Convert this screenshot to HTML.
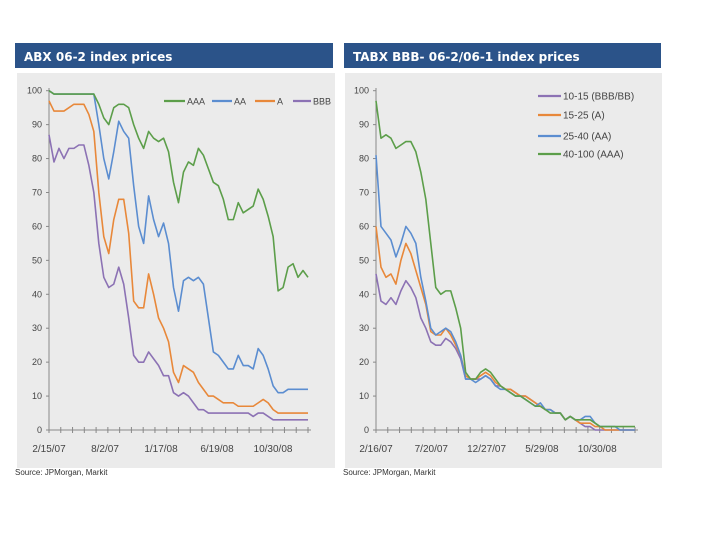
<!DOCTYPE html>
<html><head><meta charset="utf-8"><style>
body{margin:0;width:720px;height:540px;background:#fff;overflow:hidden;font-family:"Liberation Sans",sans-serif}
svg{position:absolute;left:0;top:0}
</style></head><body>
<svg id="c" width="720" height="540"></svg>
<script>
const leftCats = 53;
const leftAAA=[100,99,99,99,99,99,99,99,99,99,96,92,90,95,96,96,95,90,86,83,88,86,85,86,82,73,67,76,79,78,83,81,77,73,72,68,62,62,67,64,65,66,71,68,63,57,41,42,48,49,45,47,45];
const leftAA=[100,99,99,99,99,99,99,99,99,99,90,80,74,82,91,88,86,72,60,55,69,62,57,61,55,42,35,44,45,44,45,43,33,23,22,20,18,18,22,19,19,18,24,22,18,13,11,11,12,12,12,12,12];
const leftA=[97,94,94,94,95,96,96,96,93,88,70,57,52,62,68,68,58,38,36,36,46,40,33,30,26,17,14,19,18,17,14,12,10,10,9,8,8,8,7,7,7,7,8,9,8,6,5,5,5,5,5,5,5];
const leftBBB=[87,79,83,80,83,83,84,84,78,70,55,45,42,43,48,43,33,22,20,20,23,21,19,16,16,11,10,11,10,8,6,6,5,5,5,5,5,5,5,5,5,4,5,5,4,3,3,3,3,3,3,3,3];
const rightAAA=[97,86,87,86,83,84,85,85,82,76,68,55,42,40,41,41,36,30,17,15,15,17,18,17,15,13,12,11,10,10,9,8,7,7,6,5,5,5,3,4,3,3,3,3,2,1,1,1,1,1,1,1,1];
const rightAA=[81,60,58,56,51,55,60,58,55,45,38,30,28,29,30,29,26,22,15,15,14,15,16,15,13,12,12,11,10,10,9,8,7,8,6,6,5,5,3,4,3,3,4,4,2,1,1,1,1,0,0,0,0];
const rightA=[60,48,45,46,43,50,55,52,47,42,37,29,28,28,30,28,25,22,16,15,15,16,17,16,14,13,12,12,11,10,10,9,8,7,6,6,5,5,3,4,3,2,2,2,1,1,0,0,0,0,0,0,0];
const rightBBB=[46,38,37,39,37,41,44,42,39,33,30,26,25,25,27,26,24,21,15,15,15,15,16,15,13,13,12,12,11,10,10,9,8,7,6,6,5,5,3,4,3,2,1,1,0,0,0,0,0,0,0,0,0];
const yTicks=[0,10,20,30,40,50,60,70,80,90,100];
const leftXLabels=["2/15/07","8/2/07","1/17/08","6/19/08","10/30/08"];
const rightXLabels=["2/16/07","7/20/07","12/27/07","5/29/08","10/30/08"];
const leftLegend=["AAA","AA","A","BBB"];
const rightLegend=["10-15 (BBB/BB)","15-25 (A)","25-40 (AA)","40-100 (AAA)"];
const C={g:"#5c9e4a",b:"#5b8dd0",o:"#e8883a",p:"#8c72b4"};
const svg=document.getElementById('c');
const NS="http://www.w3.org/2000/svg";
function mk(t,a,p){const e=document.createElementNS(NS,t);for(const k in a)e.setAttribute(k,a[k]);(p||svg).appendChild(e);return e;}
function panel(o){
  const g=mk('g',{});
  
  
  const bar=mk('rect',{x:o.tx,y:43,width:o.tw,height:25,fill:"#2b5389"},g);
  
  const t=mk('text',{x:o.tx+9,y:61,fill:"#fff","font-size":12,"font-weight":"bold","font-family":"DejaVu Sans,sans-serif"},g);t.textContent=o.title;
  
  const bg=mk('rect',{x:o.px,y:73,width:o.pw,height:395,fill:"#ebebeb"},g);
  
  const y=v=>430-v*3.393;
  const x=i=>o.x0+(o.x1-o.x0)*i/(leftCats-1);
  mk('line',{x1:o.x0,y1:88,x2:o.x0,y2:430,stroke:"#888","stroke-width":1},g);
  mk('line',{x1:o.x0-3,y1:430,x2:o.x1+3,y2:430,stroke:"#888","stroke-width":1},g);
  yTicks.forEach(v=>{mk('line',{x1:o.x0-3,y1:y(v),x2:o.x0,y2:y(v),stroke:"#888"},g);
    const tt=mk('text',{x:o.x0-7,y:y(v)+3,"text-anchor":"end","font-size":9,fill:"#444"},g);tt.textContent=v;
    });
  for(let k=0;k<=22;k++){const xx=o.x0+k*(o.x1-o.x0)/22;mk('line',{x1:xx,y1:427,x2:xx,y2:433,stroke:"#888"},g);}
  o.xl.forEach((s,k)=>{const tt=mk('text',{x:o.x0+k*o.xs,y:452,"text-anchor":"middle","font-size":10,fill:"#444"},g);tt.textContent=s;
    });
  o.series.forEach(s=>{const p=mk('polyline',{points:s.d.map((v,i)=>x(i)+","+y(v)).join(" "),fill:"none",stroke:s.c,"stroke-width":1.6,"stroke-linejoin":"round"},g);
    });
  o.leg.forEach(l=>{const le=mk('g',{},g);
    mk('line',{x1:l.x,y1:l.y,x2:l.x+l.w,y2:l.y,stroke:l.c,"stroke-width":2.2},le);
    const tt=mk('text',{x:l.x+l.w+2,y:l.y+3.5,"font-size":o.lf,fill:"#444"},le);tt.textContent=l.t;});
  const src=mk('text',{x:o.px-2,y:475,"font-size":8,fill:"#333"},g);src.textContent="Source: JPMorgan, Markit";
  
}
panel({name:'abx-chart',tx:15,tw:318,px:17,pw:318,lf:9,title:"ABX 06-2 index prices",x0:49,x1:308,xs:56,xl:leftXLabels,
 series:[{d:leftBBB,c:C.p,n:'line-bbb'},{d:leftA,c:C.o,n:'line-a'},{d:leftAA,c:C.b,n:'line-aa'},{d:leftAAA,c:C.g,n:'line-aaa'}],
 leg:[{x:164,y:101,w:21,c:C.g,t:leftLegend[0]},{x:212,y:101,w:20,c:C.b,t:leftLegend[1]},{x:255,y:101,w:20,c:C.o,t:leftLegend[2]},{x:293,y:101,w:18,c:C.p,t:leftLegend[3]}]});
panel({name:'tabx-chart',tx:344,tw:317,px:345,pw:317,lf:10,title:"TABX BBB- 06-2/06-1 index prices",x0:376,x1:635,xs:55.3,xl:rightXLabels,
 series:[{d:rightBBB,c:C.p,n:'line-10-15'},{d:rightA,c:C.o,n:'line-15-25'},{d:rightAA,c:C.b,n:'line-25-40'},{d:rightAAA,c:C.g,n:'line-40-100'}],
 leg:[{x:538,y:96,w:23,c:C.p,t:rightLegend[0]},{x:538,y:115,w:23,c:C.o,t:rightLegend[1]},{x:538,y:136,w:23,c:C.b,t:rightLegend[2]},{x:538,y:154,w:23,c:C.g,t:rightLegend[3]}]});
</script>
</body></html>
